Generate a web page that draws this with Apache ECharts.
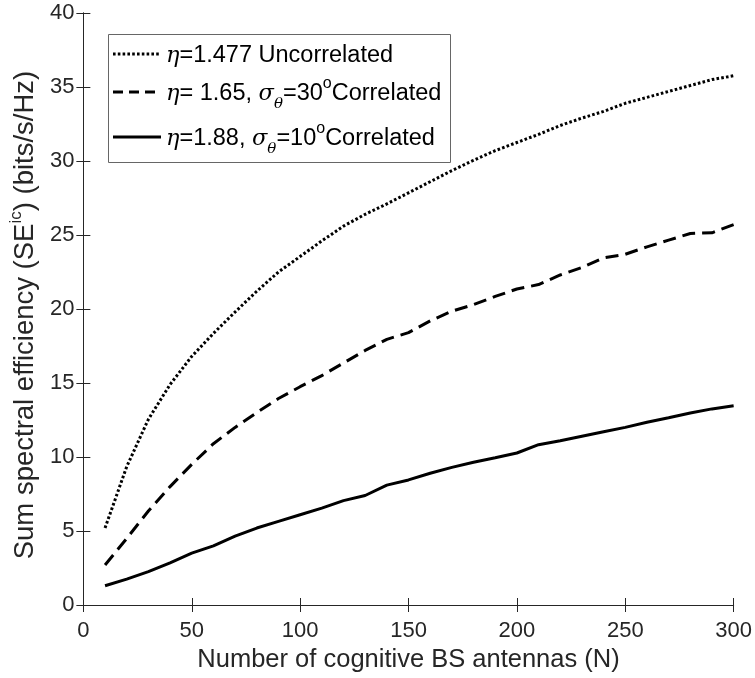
<!DOCTYPE html>
<html>
<head>
<meta charset="utf-8">
<script src="https://cdn.jsdelivr.net/npm/echarts@6/dist/echarts.min.js"></script>
<style>
  html, body { margin: 0; padding: 0; background: #fff; }
  #chart { width: 755px; height: 678px; }
</style>
</head>
<body>
<div id="chart"></div>
<script>
// Number of cognitive BS antennas
const antennas = [10, 20, 30, 40, 50, 60, 70, 80, 90, 100,
  110, 120, 130, 140, 150, 160, 170, 180, 190, 200,
  210, 220, 230, 240, 250, 260, 270, 280, 290, 300];

// Sum spectral efficiency (bits/s/Hz)
const seUncorrelated = [5.2, 9.35, 12.55, 14.9, 16.8, 18.35, 19.8, 21.2, 22.5, 23.55,
  24.6, 25.6, 26.4, 27.1, 27.85, 28.6, 29.35, 30.05, 30.7, 31.25,
  31.8, 32.4, 32.9, 33.35, 33.9, 34.3, 34.7, 35.1, 35.5, 35.76];
const seCorrelated30 = [2.7, 4.5, 6.35, 8.0, 9.5, 10.9, 12.0, 13.0, 13.95, 14.75,
  15.5, 16.35, 17.2, 17.95, 18.4, 19.2, 19.85, 20.3, 20.85, 21.35,
  21.65, 22.3, 22.8, 23.45, 23.7, 24.2, 24.65, 25.1, 25.15, 25.7];
const seCorrelated10 = [1.3, 1.75, 2.25, 2.85, 3.5, 4.0, 4.65, 5.2, 5.65, 6.1,
  6.55, 7.05, 7.4, 8.1, 8.45, 8.9, 9.3, 9.65, 9.95, 10.27,
  10.83, 11.1, 11.4, 11.7, 12.0, 12.35, 12.65, 12.97, 13.25, 13.47];

const xTicks = [0, 50, 100, 150, 200, 250, 300];
const yTicks = [0, 5, 10, 15, 20, 25, 30, 35, 40];

const seriesNames = ['η=1.477 Uncorrelated', 'η= 1.65, σθ=30°Correlated', 'η=1.88, σθ=10°Correlated'];

const FONT = '"Liberation Sans", Arial, Helvetica, sans-serif';
const SERIF = '"DejaVu Serif", "Liberation Serif", serif';
const AXIS = '#262626';

const pairs = (ys) => antennas.map((n, i) => [n, ys[i]]);

const lineStyles = [
  { color: '#000', width: 3, type: [2.6, 2.2] },
  { color: '#000', width: 3, type: [13, 7] },
  { color: '#000', width: 3, type: 'solid' }
];
const seriesData = [seUncorrelated, seCorrelated30, seCorrelated10];

// legend entry text, with italic Greek letters, a theta subscript and a raised "o"
const LF = 23.5;
const legendRich = {
  n: { fontFamily: FONT, fontSize: LF, fill: '#000', lineHeight: 36, verticalAlign: 'middle' },
  g: { fontFamily: SERIF, fontStyle: 'italic', fontSize: LF - 1, fill: '#000', lineHeight: 36, verticalAlign: 'middle' },
  sub: { fontFamily: SERIF, fontStyle: 'italic', fontSize: 15, fill: '#000', lineHeight: 17, verticalAlign: 'bottom' },
  sup: { fontFamily: FONT, fontSize: 16, fill: '#000', lineHeight: 26, verticalAlign: 'top' }
};
const legendText = [
  '{g|η}{n|=1.477 Uncorrelated}',
  '{g|η}{n|= 1.65, }{g|σ}{sub|θ}{n|=30}{sup|o}{n|Correlated}',
  '{g|η}{n|=1.88, }{g|σ}{sub|θ}{n|=10}{sup|o}{n|Correlated}'
];
const legendRowY = [54, 92, 137];
const legendDash = [[2.6, 2.2], [10, 6], null];

const legendGraphics = [{
  type: 'rect',
  shape: { x: 108.5, y: 34.5, width: 342, height: 128 },
  style: { fill: '#fff', stroke: '#666', lineWidth: 1 },
  z: 10
}];
legendRowY.forEach((y, i) => {
  legendGraphics.push({
    type: 'line',
    shape: { x1: 113, y1: y, x2: 161, y2: y },
    style: { stroke: '#000', lineWidth: 3, lineDash: legendDash[i] },
    z: 11
  });
  legendGraphics.push({
    type: 'text',
    x: 166, y: y + 2,
    style: {
      text: legendText[i],
      rich: legendRich,
      fontFamily: FONT, fontSize: LF, fill: '#000',
      verticalAlign: 'middle', align: 'left'
    },
    z: 11
  });
});

const chart = echarts.init(document.getElementById('chart'), null, { renderer: 'canvas' });

const axisCommon = {
  axisLine: { show: true, lineStyle: { color: AXIS, width: 1 } },
  axisTick: { show: true, inside: true, length: 7, lineStyle: { color: AXIS, width: 1 } },
  splitLine: { show: false }
};

chart.setOption({
  animation: false,
  backgroundColor: '#fff',
  grid: { left: 80, right: 20, top: 13, bottom: 73, containLabel: false },
  xAxis: [
    Object.assign({
      type: 'value', min: 0, max: 300, interval: 50, position: 'bottom',
      name: 'Number of cognitive BS antennas (N)',
      nameLocation: 'middle', nameGap: 42,
      nameTextStyle: { fontFamily: FONT, fontSize: 25.5, color: AXIS },
      axisLabel: {
        margin: 15, fontFamily: FONT, fontSize: 22, color: AXIS,
        formatter: (v) => xTicks.includes(v) ? String(v) : ''
      }
    }, axisCommon),
    Object.assign({
      type: 'value', min: 0, max: 300, interval: 50, position: 'top',
      axisLabel: { show: false }
    }, axisCommon)
  ],
  yAxis: [
    Object.assign({
      type: 'value', min: 0, max: 40, interval: 5, position: 'left',
      name: '{n|Sum spectral efficiency (SE}{s|ic}{n|) (bits/s/Hz)}',
      nameLocation: 'middle', nameGap: 40, nameRotate: 90,
      nameTextStyle: {
        padding: [0, 12, 0, 0],
        rich: {
          n: { fontFamily: FONT, fontSize: 27.5, color: AXIS, lineHeight: 34, verticalAlign: 'middle' },
          s: { fontFamily: FONT, fontSize: 17, color: AXIS, lineHeight: 30, verticalAlign: 'top' }
        }
      },
      axisLabel: {
        margin: 9, fontFamily: FONT, fontSize: 22, color: AXIS,
        formatter: (v) => yTicks.includes(v) ? String(v) : ''
      }
    }, axisCommon),
    Object.assign({
      type: 'value', min: 0, max: 40, interval: 5, position: 'right',
      axisLabel: { show: false }
    }, axisCommon)
  ],
  graphic: legendGraphics,
  series: seriesNames.map((name, i) => ({
    name: name,
    type: 'line',
    data: pairs(seriesData[i]),
    showSymbol: false,
    symbol: 'none',
    lineStyle: lineStyles[i],
    itemStyle: { color: '#000' },
    z: 3
  }))
});
</script>
</body>
</html>
